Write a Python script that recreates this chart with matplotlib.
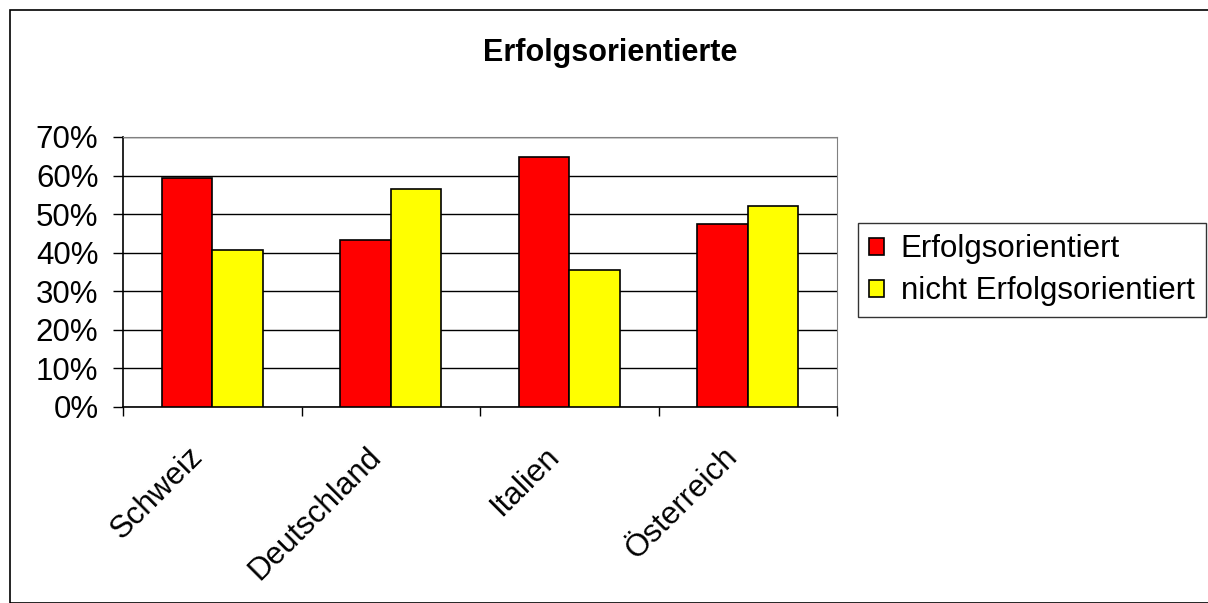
import matplotlib
matplotlib.use("Agg")
import matplotlib.pyplot as plt
import numpy as np
from matplotlib.ticker import FixedLocator, NullFormatter
from matplotlib.transforms import ScaledTranslation

categories = ["Schweiz", "Deutschland", "Italien", "Österreich"]
erfolg = [59.5, 43.4, 64.7, 47.5]
nicht_erfolg = [40.6, 56.4, 35.5, 52.2]
series_names = ["Erfolgsorientiert", "nicht Erfolgsorientiert"]
title = "Erfolgsorientierte"
yticks = [0, 10, 20, 30, 40, 50, 60, 70]

plt.rcParams['font.family'] = ['Liberation Sans', 'DejaVu Sans']

W, H = 1208, 603
fig = plt.figure(figsize=(W / 100, H / 100), dpi=100)

# outer chart border
fig.patches.append(plt.Rectangle((10 / W, 0), 1.2, (H - 10) / H, transform=fig.transFigure,
                                 fill=False, edgecolor='black', linewidth=1.2))

left, right, top, bottom = 123, 837, 137, 407
ax = fig.add_axes([left / W, 1 - bottom / H, (right - left) / W, (bottom - top) / H])

x = np.arange(len(categories))
bw = 0.283
ax.bar(x - bw / 2, erfolg, bw, color='#ff0000', edgecolor='black', linewidth=1.2,
       label=series_names[0], zorder=3)
ax.bar(x + bw / 2, nicht_erfolg, bw, color='#ffff00', edgecolor='black', linewidth=1.2,
       label=series_names[1], zorder=3)

ax.set_xlim(-0.5, len(categories) - 0.5)
ax.set_ylim(0, 70)
ax.set_yticks(yticks)
ax.set_yticklabels([f"{v}%" for v in yticks], fontsize=22.5)
ax.yaxis.grid(True, color='black', linewidth=1.0, zorder=0)
ax.set_axisbelow(True)

ax.xaxis.set_major_locator(FixedLocator(np.arange(-0.5, len(categories), 1.0)))
ax.xaxis.set_major_formatter(NullFormatter())
ax.xaxis.set_minor_locator(FixedLocator(x))
ax.set_xticklabels(categories, minor=True, rotation=45, ha='right', va='top',
                   rotation_mode='anchor', fontsize=22.5)
ax.tick_params(axis='x', which='minor', length=0, pad=22)
ax.tick_params(axis='x', which='major', length=6.5, direction='out', width=1)
ax.tick_params(axis='y', length=7.2, direction='out', width=1, pad=10.5)
off = ScaledTranslation(-0.25, -0.04, fig.dpi_scale_trans)
for lab in ax.get_xticklabels(minor=True):
    lab.set_transform(lab.get_transform() + off)

for s in ['top', 'right']:
    ax.spines[s].set_color('#808080')
for s in ['left', 'bottom']:
    ax.spines[s].set_color('black')
    ax.spines[s].set_linewidth(1.2)

fig.text(610 / W, 1 - 53 / H, title, ha='center', va='center',
         fontsize=22, fontweight='bold')

leg = fig.legend(loc='upper left', bbox_to_anchor=(858 / W, 1 - 223 / H), fontsize=22.5,
                 frameon=True, fancybox=False, edgecolor='black', handlelength=0.46,
                 handleheight=0.46, handletextpad=0.55, borderpad=0.36, labelspacing=0.38,
                 borderaxespad=0)
leg.get_frame().set_linewidth(1.0)

fig.savefig("out.png", dpi=100)
